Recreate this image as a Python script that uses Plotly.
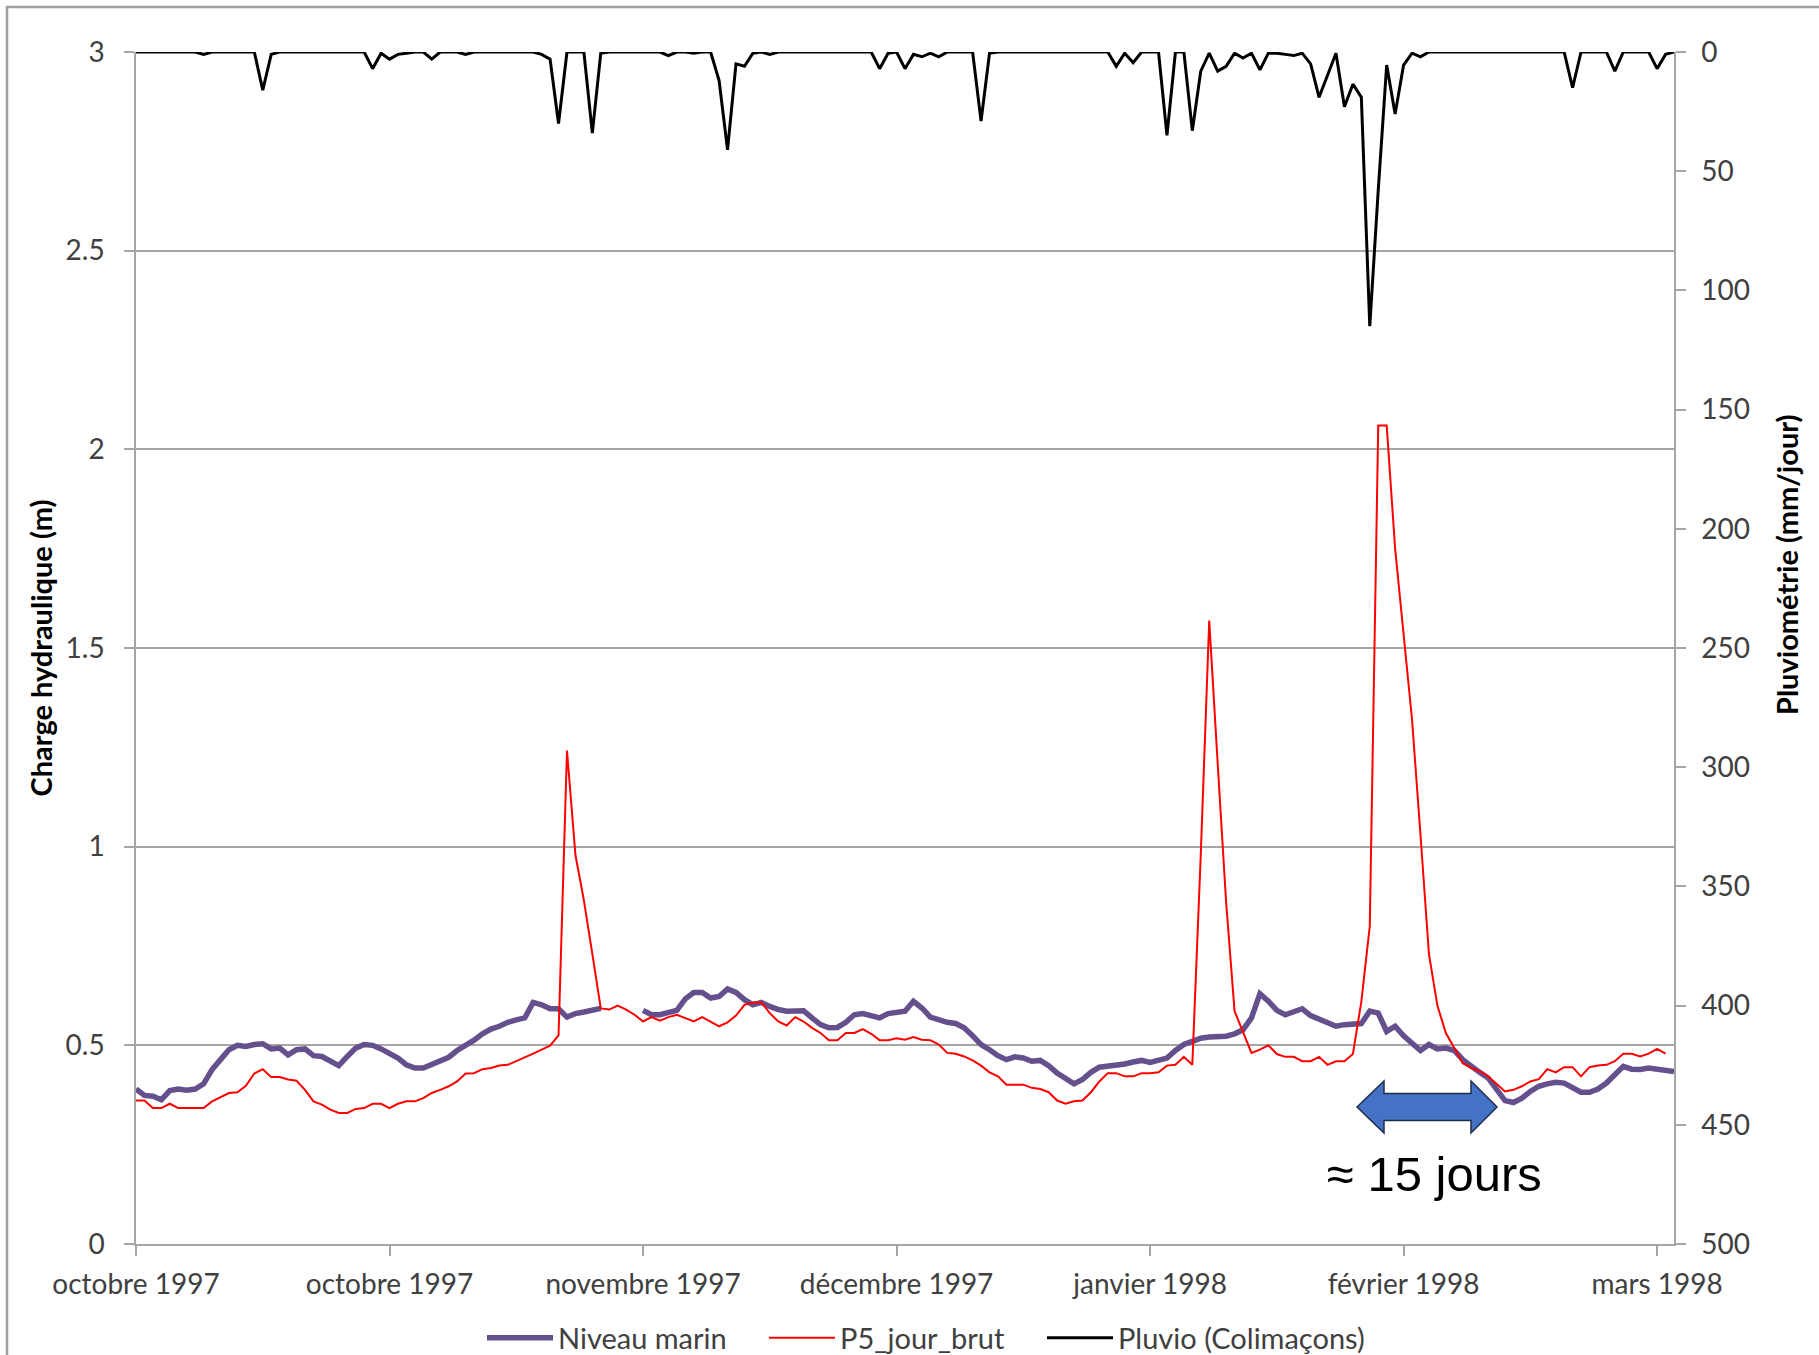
import numpy as np
import pandas as pd
import plotly.graph_objects as go

# ---------------- data (daily values) ----------------
start_date = "1997-10-01"

niveau_marin = [
    0.390, 0.374, 0.372, 0.363, 0.386, 0.390, 0.387, 0.390, 0.403, 0.439,
    0.464, 0.489, 0.500, 0.497, 0.502, 0.504, 0.491, 0.493, 0.476, 0.489,
    0.491, 0.474, 0.472, 0.462, 0.449, 0.472, 0.493, 0.502, 0.500, 0.491,
    0.479, 0.468, 0.451, 0.443, 0.443, 0.451, 0.461, 0.470, 0.487, 0.499,
    0.513, 0.529, 0.541, 0.548, 0.558, 0.564, 0.569, 0.608, 0.602, 0.592,
    0.592, 0.571, 0.580, 0.584, 0.588, 0.593, None, None, None, None,
    0.588, 0.577, 0.577, 0.583, 0.588, 0.617, 0.633, 0.633, 0.619, 0.623,
    0.642, 0.633, 0.615, 0.602, 0.608, 0.598, 0.590, 0.586, 0.586, 0.587,
    0.569, 0.552, 0.544, 0.545, 0.558, 0.577, 0.580, 0.573, 0.569, 0.580,
    0.583, 0.586, 0.611, 0.594, 0.571, 0.563, 0.558, 0.555, 0.544, 0.524,
    0.502, 0.489, 0.474, 0.464, 0.471, 0.468, 0.460, 0.462, 0.449, 0.430,
    0.415, 0.403, 0.414, 0.432, 0.445, 0.447, 0.449, 0.453, 0.458, 0.462,
    0.457, 0.464, 0.468, 0.487, 0.502, 0.510, 0.518, 0.521, 0.521, 0.523,
    0.529, 0.539, 0.569, 0.630, 0.611, 0.588, 0.577, 0.583, 0.592, 0.575,
    0.566, 0.558, 0.548, 0.552, 0.552, 0.555, 0.586, 0.581, 0.535, 0.548,
    0.524, 0.506, 0.487, 0.502, 0.491, 0.493, 0.487, 0.464, 0.447, 0.432,
    0.418, 0.390, 0.361, 0.356, 0.367, 0.384, 0.397, 0.403, 0.407, 0.405,
    0.395, 0.382, 0.382, 0.390, 0.405, 0.426, 0.447, 0.440, 0.439, 0.443,
    0.440, 0.439, 0.434,
]

p5_jour_brut = [
    0.361, 0.361, 0.342, 0.342, 0.353, 0.342, 0.342, 0.342, 0.342, 0.359,
    0.370, 0.380, 0.382, 0.398, 0.429, 0.440, 0.420, 0.420, 0.414, 0.411,
    0.388, 0.359, 0.351, 0.338, 0.330, 0.330, 0.340, 0.342, 0.353, 0.353,
    0.342, 0.353, 0.359, 0.359, 0.367, 0.380, 0.388, 0.397, 0.409, 0.429,
    0.430, 0.440, 0.443, 0.449, 0.451, 0.460, 0.470, 0.479, 0.489, 0.499,
    0.525, 1.242, 0.979, 0.865, 0.730, 0.593, 0.590, 0.600, 0.590, 0.577,
    0.560, 0.571, 0.562, 0.571, 0.577, 0.569, 0.560, 0.571, 0.560, 0.548,
    0.558, 0.575, 0.602, 0.608, 0.608, 0.581, 0.560, 0.550, 0.571, 0.560,
    0.544, 0.531, 0.513, 0.513, 0.531, 0.531, 0.541, 0.529, 0.513, 0.513,
    0.518, 0.514, 0.521, 0.514, 0.513, 0.502, 0.481, 0.479, 0.472, 0.462,
    0.449, 0.432, 0.422, 0.401, 0.401, 0.401, 0.393, 0.390, 0.382, 0.361,
    0.353, 0.359, 0.361, 0.382, 0.409, 0.430, 0.430, 0.422, 0.422, 0.430,
    0.430, 0.432, 0.449, 0.451, 0.471, 0.451, 0.980, 1.569, 1.210, 0.860,
    0.586, 0.531, 0.481, 0.489, 0.500, 0.478, 0.471, 0.471, 0.460, 0.460,
    0.471, 0.451, 0.460, 0.460, 0.478, 0.610, 0.800, 2.060, 2.060, 1.750,
    1.525, 1.320, 1.030, 0.730, 0.600, 0.531, 0.493, 0.455, 0.443, 0.435,
    0.422, 0.403, 0.384, 0.388, 0.397, 0.409, 0.415, 0.440, 0.432, 0.445,
    0.445, 0.422, 0.445, 0.449, 0.451, 0.460, 0.479, 0.479, 0.472, 0.479,
    0.491, 0.479,
]

pluvio = [
    0, 0, 0, 0, 0, 0, 0, 0, 1, 0,
    0, 0, 0, 0, 0, 16, 1, 0, 0, 0,
    0, 0, 0, 0, 0, 0, 0, 0, 7, 0.5,
    3, 1, 0.5, 0, 0, 3, 0, 0, 0, 1,
    0, 0, 0, 0, 0, 0, 0, 0, 1, 3,
    30, 0, 0, 0, 34, 0.5, 0, 0, 0, 0,
    0, 0, 0, 1.5, 0, 0, 0.5, 0, 0, 12,
    41, 5, 6, 0.5, 0, 1, 0, 0, 0, 0,
    0, 0, 0, 0, 0, 0, 0, 0, 7, 0.5,
    0, 7, 1, 2, 0.5, 2, 0, 0, 0, 0,
    29, 0.5, 0, 0, 0, 0, 0, 0, 0, 0,
    0, 0, 0, 0, 0, 0, 6, 0.5, 4.5, 0,
    0, 0, 35, 0, 0, 33, 8, 0.5, 8, 6,
    0.5, 2.5, 0.5, 7.5, 0.5, 0.5, 1, 1.5, 0.5, 5,
    19, 10, 0.5, 23, 13.5, 19, 115, 58, 5.5, 26,
    5.5, 0.5, 2, 0, 0, 0, 0, 0, 0, 0,
    0, 0, 0, 0, 0, 0, 0, 0, 0, 0,
    15, 0, 0, 0, 0, 8, 0, 0, 0, 0,
    7, 1, 0,
]

tick_dates = ["1997-10-01", "1997-10-31", "1997-11-30", "1997-12-30",
              "1998-01-29", "1998-02-28", "1998-03-30"]
tick_labels = ["octobre 1997", "octobre 1997", "novembre 1997", "décembre 1997",
               "janvier 1998", "février 1998", "mars 1998"]
x_range = ["1997-10-01", "1998-04-01"]

series_names = ["Niveau marin", "P5_jour_brut", "Pluvio (Colimaçons)"]
left_title = "Charge hydraulique (m)"
right_title = "Pluviométrie (mm/jour)"
arrow_text = "≈ 15 jours"

# ---------------- figure ----------------
W, H = 1819, 1355
L, R, T, B = 136, 145, 52, 111
PW, PH = W - L - R, H - T - B

def pp(px, py):
    """pixel -> paper coords"""
    return (px - L) / PW, (H - B - py) / PH

FONT = "Lato"
GRID = "#A6A6A6"
TXT = "#404040"

x_nm = pd.date_range(start_date, periods=len(niveau_marin), freq="D")
x_p5 = pd.date_range(start_date, periods=len(p5_jour_brut), freq="D")
x_pl = pd.date_range(start_date, periods=len(pluvio), freq="D")

fig = go.Figure()
fig.add_trace(go.Scatter(x=x_nm, y=niveau_marin, name=series_names[0], mode="lines",
                         line=dict(color="#64508C", width=5.5), connectgaps=False,
                         legend="legend"))
fig.add_trace(go.Scatter(x=x_p5, y=p5_jour_brut, name=series_names[1], mode="lines",
                         line=dict(color="#FF0000", width=2), legend="legend2"))
fig.add_trace(go.Scatter(x=x_pl, y=pluvio, name=series_names[2], mode="lines",
                         line=dict(color="#000000", width=3), yaxis="y2",
                         legend="legend3"))

# double arrow
pts = [(1357, 1107), (1384, 1081), (1384, 1093.5), (1471, 1093.5), (1471, 1081),
       (1497, 1107), (1471, 1133), (1471, 1120.5), (1384, 1120.5), (1384, 1133)]
path = "M " + " L ".join(f"{pp(a, b)[0]:.5f},{pp(a, b)[1]:.5f}" for a, b in pts) + " Z"

bx0, by0 = pp(7, 7)
shapes = [
    dict(type="path", xref="paper", yref="paper", path=path,
         fillcolor="#4472C4", line=dict(color="#1F2D4D", width=1.5)),
    dict(type="rect", xref="paper", yref="paper", x0=bx0, y0=-0.5, x1=1.5, y1=by0,
         line=dict(color="#A0A0A0", width=2.5), fillcolor="rgba(0,0,0,0)", layer="below"),
]

ax, ay = pp(1434, 1174)
rx, ry = pp(1787, 565)
annotations = [
    dict(text=arrow_text, xref="paper", yref="paper", x=ax, y=ay,
         xanchor="center", yanchor="middle", showarrow=False,
         font=dict(family="Liberation Sans", size=49, color="#000000")),
    dict(text=f"<b>{right_title}</b>", xref="paper", yref="paper", x=rx, y=ry,
         xanchor="center", yanchor="middle", showarrow=False, textangle=-90,
         font=dict(family=FONT, size=29, color="#000000")),
]

def legend_at(px):
    x, y = pp(px, 1338)
    return dict(orientation="h", x=x, xanchor="left", y=y, yanchor="middle",
                font=dict(family=FONT, size=29, color=TXT),
                bgcolor="rgba(0,0,0,0)", itemwidth=66)

fig.update_layout(
    width=W, height=H,
    margin=dict(l=L, r=R, t=T, b=B, autoexpand=False),
    paper_bgcolor="white", plot_bgcolor="white",
    font=dict(family=FONT, size=28, color=TXT),
    showlegend=True,
    legend=legend_at(482),
    legend2=legend_at(764),
    legend3=legend_at(1042),
    xaxis=dict(type="date", range=x_range, tickvals=tick_dates, ticktext=tick_labels,
               showgrid=False, showline=True, linecolor=GRID, linewidth=1.5,
               ticks="outside", ticklen=10, tickcolor=GRID, tickwidth=1.5,
               ticklabelstandoff=5, tickfont=dict(size=28, color=TXT), zeroline=False),
    yaxis=dict(range=[0, 3], tick0=0, dtick=0.5, showgrid=True, gridcolor=GRID, gridwidth=1.5,
               showline=True, linecolor=GRID, linewidth=1.5, zeroline=False,
               ticks="outside", ticklen=10, tickcolor=GRID, tickwidth=1.5,
               ticklabelstandoff=14, tickfont=dict(size=28, color=TXT),
               title=dict(text=f"<b>{left_title}</b>", standoff=4,
                          font=dict(family=FONT, size=29, color="#000000"))),
    yaxis2=dict(range=[500, 0], tick0=0, dtick=50, overlaying="y", side="right",
                showgrid=False, showline=True, linecolor=GRID, linewidth=1.5, zeroline=False,
                ticks="outside", ticklen=10, tickcolor=GRID, tickwidth=1.5,
                ticklabelstandoff=10, tickfont=dict(size=28, color=TXT)),
    shapes=shapes,
    annotations=annotations,
)

fig.write_html("out.html", config={"displayModeBar": False},
               post_script="document.body.style.margin='0';document.body.style.overflow='hidden';")
